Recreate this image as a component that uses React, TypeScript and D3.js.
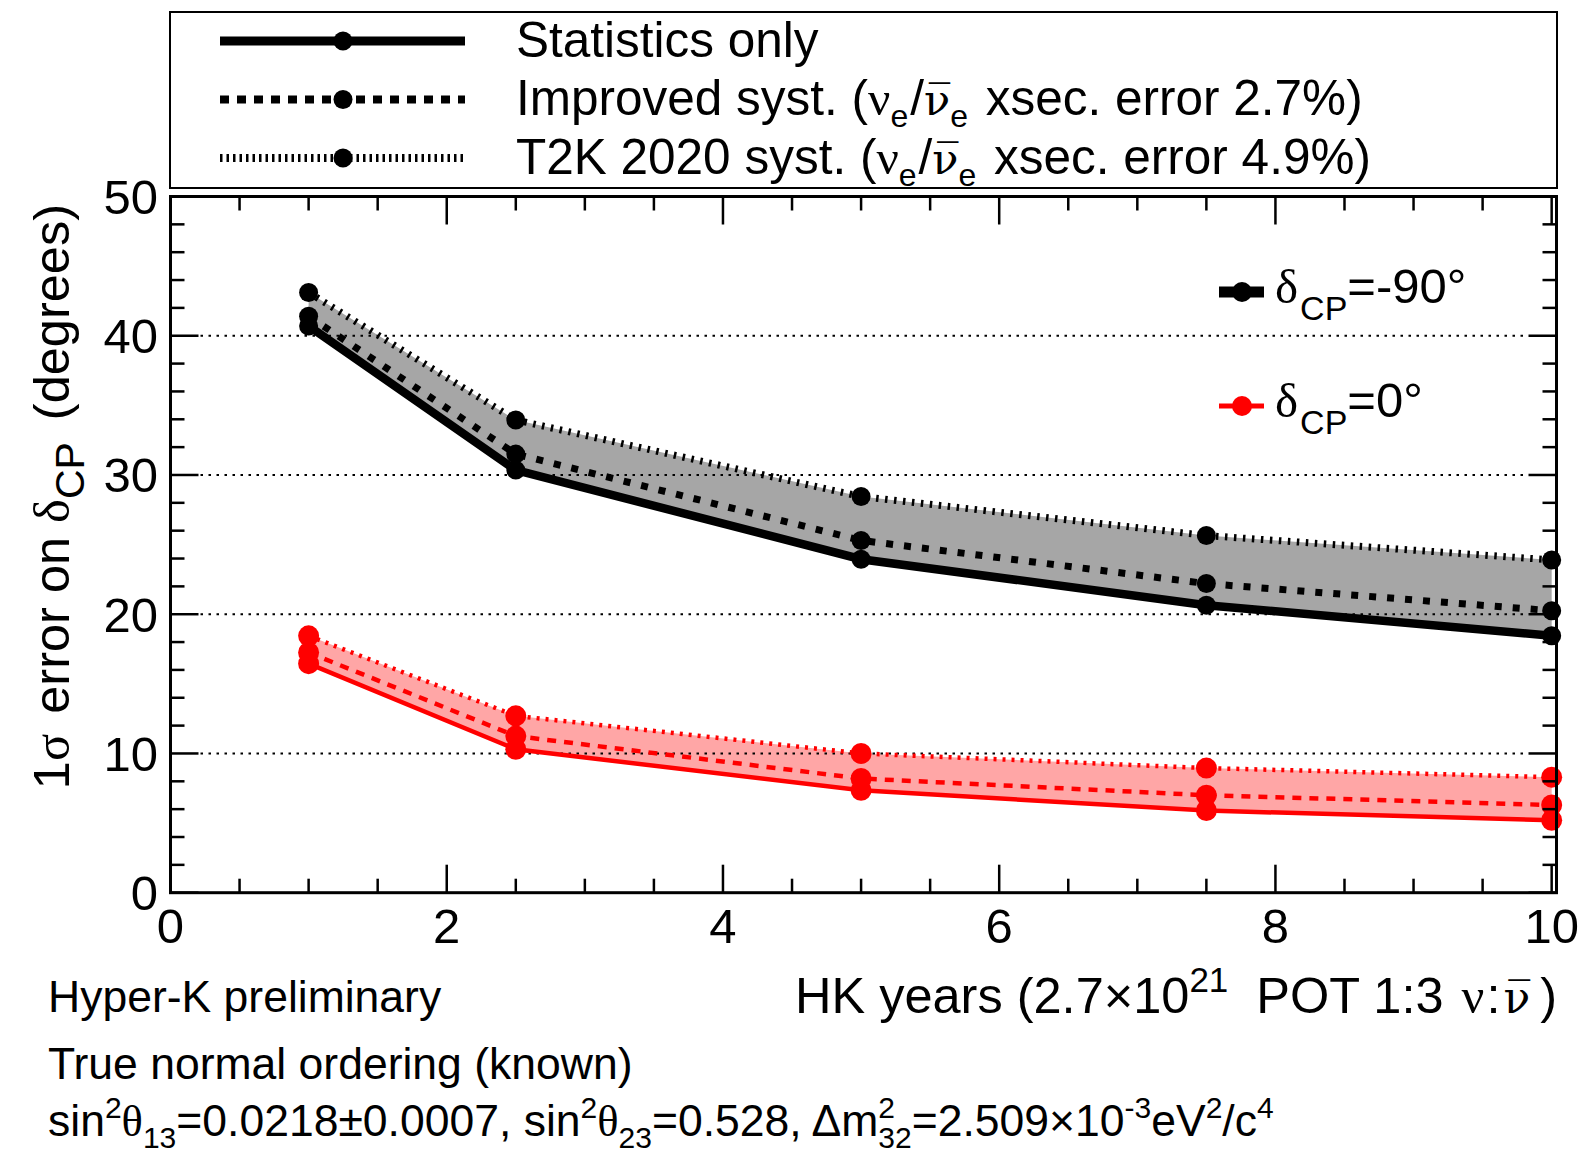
import React from "react";
import * as d3 from "d3";

// HK years of exposure
const years = [1, 2.5, 5, 7.5, 10];

// delta_CP = -90 deg
const statsM90 = [40.7, 30.35, 23.95, 20.65, 18.45];
const improvedM90 = [41.4, 31.5, 25.3, 22.2, 20.25];
const t2kM90 = [43.1, 33.95, 28.45, 25.65, 23.9];

// delta_CP = 0 deg
const stats0 = [16.45, 10.3, 7.35, 5.9, 5.2];
const improved0 = [17.25, 11.25, 8.2, 7.0, 6.3];
const t2k0 = [18.45, 12.7, 10.0, 8.95, 8.3];

const xTickLabels = [0, 2, 4, 6, 8, 10];
const yTickLabels = [0, 10, 20, 30, 40, 50];
const gridLevels = [10, 20, 30, 40];

const FONT = "'Liberation Sans', Arial, Helvetica, sans-serif";
const GREEK = "'Liberation Serif', 'DejaVu Serif', serif";
const BARFONT = "'DejaVu Serif', serif";
const RED = "#ff0000";
const NUBAR = "ν\u0305";

const x = d3.scaleLinear().domain([0, 10.035]).range([170.5, 1556.5]);
const y = d3.scaleLinear().domain([0, 50]).range([892.7, 196.5]);

const line = d3
  .line<number>()
  .x((_, i) => x(years[i]))
  .y((d) => y(d));

const band = (lo: number[], hi: number[]) =>
  d3
    .area<number>()
    .x((_, i) => x(years[i]))
    .y0((_, i) => y(lo[i]))
    .y1((d) => y(d))(hi);

const series = [
  { vals: statsM90, color: "#000", width: 8.5, dash: undefined, r: 9.5 },
  { vals: improvedM90, color: "#000", width: 7, dash: "7 11", r: 9.5 },
  { vals: t2kM90, color: "#000", width: 7, dash: "2.5 6.5", r: 9.5 },
  { vals: stats0, color: RED, width: 4.5, dash: undefined, r: 10.5 },
  { vals: improved0, color: RED, width: 4.5, dash: "9 8", r: 10.5 },
  { vals: t2k0, color: RED, width: 4.5, dash: "3 6", r: 10.5 },
];

const legendRows = [
  { label: "Statistics only", dash: undefined, extra: null },
  { label: "Improved syst. (", dash: "9 8", extra: "2.7%" },
  { label: "T2K 2020 syst. (", dash: "2.5 4", extra: "4.9%" },
];

export default function App() {
  const xMinor = d3.range(0, 10.001, 0.5);
  const yMinor = d3.range(0, 50.001, 2);
  const [x0, x1] = x.range();
  const [yb, yt] = y.range();

  return (
    <svg
      width={1584}
      height={1162}
      style={{ position: "absolute", left: 0, top: 0, background: "#fff" }}
      fontFamily={FONT}
    >
      <rect width={1584} height={1162} fill="#fff" />

      {/* bands */}
      <path d={band(statsM90, t2kM90) || ""} fill="#a6a6a6" />
      <path d={band(stats0, t2k0) || ""} fill="#ffa6a6" />

      {/* grid */}
      {gridLevels.map((g) => (
        <line
          key={g}
          x1={x0 + 30}
          x2={x1 - 28}
          y1={y(g)}
          y2={y(g)}
          stroke="#000"
          strokeWidth={2}
          strokeDasharray="2.5 5.5"
        />
      ))}

      {/* series */}
      {series.map((s, i) => (
        <g key={i}>
          <path
            d={line(s.vals) || ""}
            fill="none"
            stroke={s.color}
            strokeWidth={s.width}
            strokeDasharray={s.dash}
          />
          {s.vals.map((v, j) => (
            <circle key={j} cx={x(years[j])} cy={y(v)} r={s.r} fill={s.color} />
          ))}
        </g>
      ))}

      {/* frame & ticks */}
      <rect x={x0} y={yt} width={x1 - x0} height={yb - yt} fill="none" stroke="#000" strokeWidth={3} />
      {xMinor.map((t) => {
        const len = t % 2 === 0 ? 28 : 14;
        return (
          <g key={"xt" + t} stroke="#000" strokeWidth={2.5}>
            <line x1={x(t)} x2={x(t)} y1={yb} y2={yb - len} />
            <line x1={x(t)} x2={x(t)} y1={yt} y2={yt + len} />
          </g>
        );
      })}
      {yMinor.map((t) => {
        const len = t % 10 === 0 ? 28 : 14;
        return (
          <g key={"yt" + t} stroke="#000" strokeWidth={2.5}>
            <line x1={x0} x2={x0 + len} y1={y(t)} y2={y(t)} />
            <line x1={x1} x2={x1 - len} y1={y(t)} y2={y(t)} />
          </g>
        );
      })}
      {xTickLabels.map((t) => (
        <text key={"xl" + t} x={x(t)} y={943} fontSize={49} textAnchor="middle">
          {t}
        </text>
      ))}
      {yTickLabels.map((t) => (
        <text key={"yl" + t} x={158} y={y(t) + 17.5} fontSize={49} textAnchor="end">
          {t}
        </text>
      ))}

      {/* axis titles */}
      <text x={1557} y={1013} fontSize={50.5} textAnchor="end">
        HK years (2.7×10
        <tspan dy={-21} fontSize={35}>21</tspan>
        <tspan dy={21} dx={14}> POT 1:3 </tspan>
        <tspan fontFamily={GREEK} dx={4}>ν</tspan>
        <tspan dx={2}>:</tspan>
        <tspan fontFamily={BARFONT} fontSize={44} dx={3}>{NUBAR}</tspan>
        <tspan dx={10}>)</tspan>
      </text>
      <text transform="translate(69,204) rotate(-90)" fontSize={50.5} textAnchor="end">
        1<tspan fontFamily={GREEK}>σ</tspan>
        <tspan dx={6}> error on </tspan>
        <tspan fontFamily={GREEK}>δ</tspan>
        <tspan dy={15} fontSize={41}>CP</tspan>
        <tspan dy={-15} dx={22}>(degrees)</tspan>
      </text>

      {/* legend box */}
      <rect x={170} y={12} width={1387} height={176} fill="#fff" stroke="#000" strokeWidth={2} />
      {legendRows.map((r, i) => {
        const ly = 41 + i * 58.5;
        return (
          <g key={r.label}>
            <line x1={220} x2={465} y1={ly} y2={ly} stroke="#000" strokeWidth={i === 0 ? 9 : 8} strokeDasharray={r.dash} />
            <circle cx={343} cy={ly} r={9.5} fill="#000" />
            <text x={516} y={ly + 15.5} fontSize={49.5}>
              {r.label}
              {r.extra && (
                <>
                  <tspan fontFamily={GREEK}>ν</tspan>
                  <tspan dy={12} fontSize={32}>e</tspan>
                  <tspan dy={-12} dx={2}>/</tspan>
                  <tspan fontFamily={BARFONT} fontSize={43}>{NUBAR}</tspan>
                  <tspan dy={12} fontSize={32}>e</tspan>
                  <tspan dy={-12} dx={4}> xsec. error {r.extra})</tspan>
                </>
              )}
            </text>
          </g>
        );
      })}

      {/* delta_CP legend */}
      {[
        { c: "#000", w: 11, v: "=-90°", ly: 292 },
        { c: RED, w: 5, v: "=0°", ly: 406 },
      ].map((d) => (
        <g key={d.v}>
          <line x1={1219} x2={1264} y1={d.ly} y2={d.ly} stroke={d.c} strokeWidth={d.w} />
          <circle cx={1242} cy={d.ly} r={10} fill={d.c} />
          <text x={1275} y={d.ly + 11} fontSize={49}>
            <tspan fontFamily={GREEK}>δ</tspan>
            <tspan dy={17} dx={2} fontSize={34}>CP</tspan>
            <tspan dy={-17}>{d.v}</tspan>
          </text>
        </g>
      ))}

      {/* annotations */}
      <text x={48} y={1012} fontSize={44.5}>Hyper-K preliminary</text>
      <text x={48} y={1079} fontSize={44.5}>True normal ordering (known)</text>
      <text x={48} y={1136} fontSize={44.5}>
        sin<tspan dy={-18} fontSize={30}>2</tspan>
        <tspan dy={18} fontFamily={GREEK}>θ</tspan>
        <tspan dy={12} fontSize={30}>13</tspan>
        <tspan dy={-12}>=0.0218±0.0007, sin</tspan>
        <tspan dy={-18} fontSize={30}>2</tspan>
        <tspan dy={18} fontFamily={GREEK}>θ</tspan>
        <tspan dy={12} fontSize={30}>23</tspan>
        <tspan dy={-12}>=0.528, Δm</tspan>
        <tspan dy={-18} fontSize={30}>2</tspan>
        <tspan dy={30} dx={-16.7} fontSize={30}>32</tspan>
        <tspan dy={-12}>=2.509×10</tspan>
        <tspan dy={-18} fontSize={30}>-3</tspan>
        <tspan dy={18}>eV</tspan>
        <tspan dy={-18} fontSize={30}>2</tspan>
        <tspan dy={18}>/c</tspan>
        <tspan dy={-18} fontSize={30}>4</tspan>
      </text>
    </svg>
  );
}
